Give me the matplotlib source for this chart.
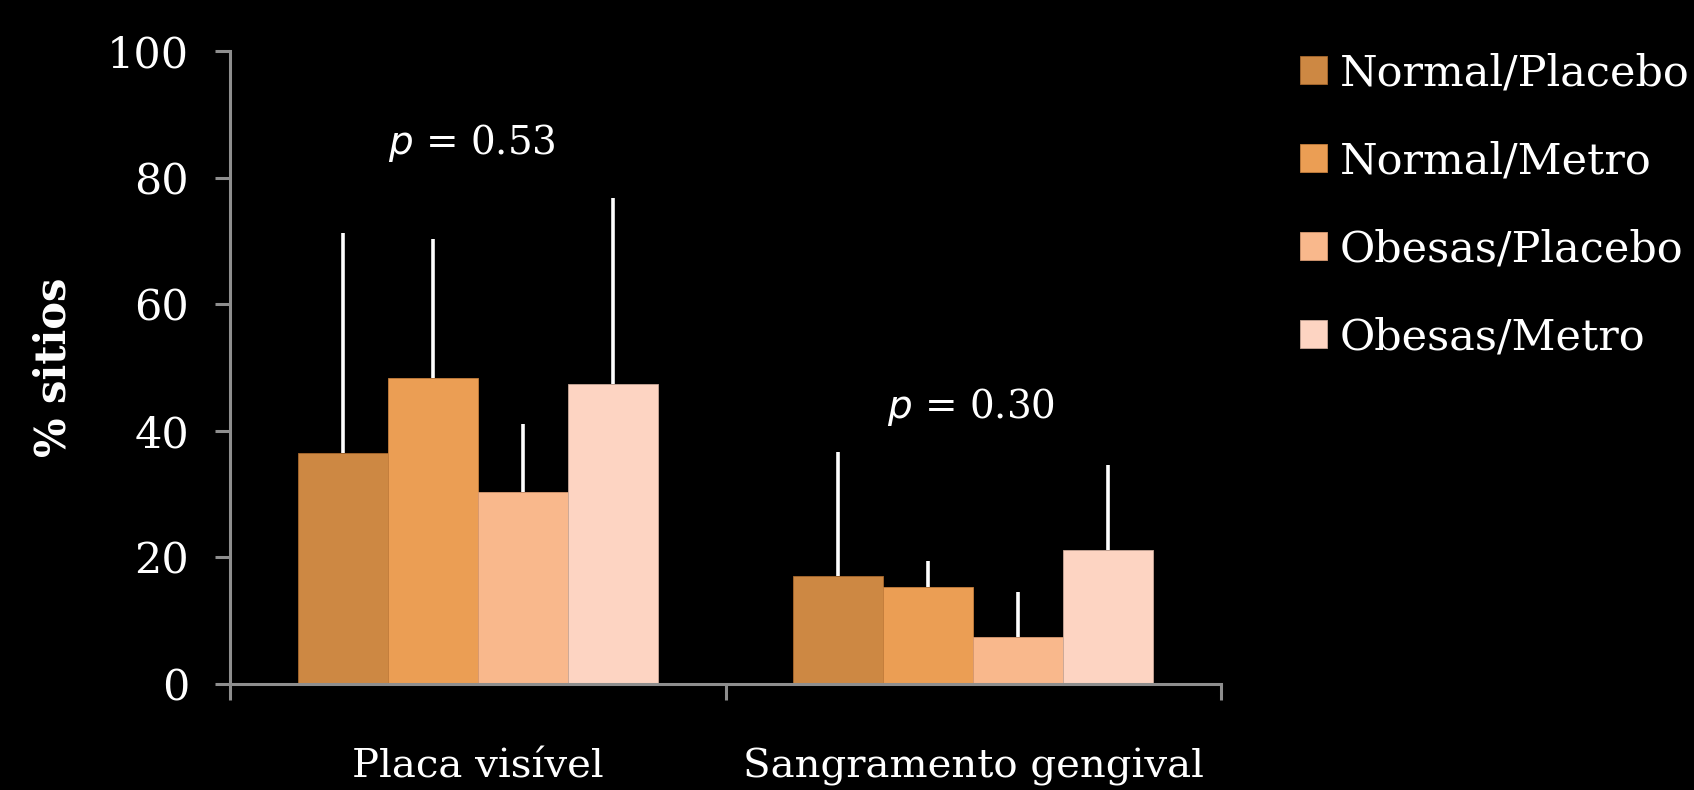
import matplotlib
matplotlib.use("Agg")
import matplotlib.pyplot as plt
import numpy as np

categories = ["Placa visível", "Sangramento gengival"]
series = ["Normal/Placebo", "Normal/Metro", "Obesas/Placebo", "Obesas/Metro"]
means = {
    "Normal/Placebo": [36.5, 17.1],
    "Normal/Metro":   [48.4, 15.3],
    "Obesas/Placebo": [30.4, 7.5],
    "Obesas/Metro":   [47.4, 21.2],
}
upper_err = {
    "Normal/Placebo": [34.8, 19.6],
    "Normal/Metro":   [21.9, 4.1],
    "Obesas/Placebo": [10.7, 7.1],
    "Obesas/Metro":   [29.4, 13.4],
}
colors = ["#CD8843", "#EB9E54", "#F9B88C", "#FDD4C2"]
edgecolors = ["#A8682E", "#C47E3C", "#D89A72", "#C9A898"]
p_labels = ["0.53", "0.30"]
yticks = [0, 20, 40, 60, 80, 100]

plt.rcParams['font.family'] = ['DejaVu Serif']
FS = 31

fig = plt.figure(figsize=(16.94, 7.90), dpi=100, facecolor='black')
ax = fig.add_axes([230/1694, 1-684/790, 991/1694, 633/790])
ax.set_facecolor('black')

x = np.arange(len(categories))
w = 0.1817
for i, s in enumerate(series):
    vals = means[s]
    errs = upper_err[s]
    ax.bar(x + (i - 1.5) * w, vals, width=w, color=colors[i],
           edgecolor=edgecolors[i], linewidth=0.6, label=s, zorder=2)
    ax.errorbar(x + (i - 1.5) * w, vals, yerr=[np.zeros(len(errs)), errs],
                fmt='none', ecolor='white', elinewidth=2.6, capsize=0, zorder=1)

ax.set_xlim(-0.5, 1.5)
ax.set_ylim(0, 100)
ax.set_yticks(yticks)
ax.set_yticklabels([str(t) for t in yticks], fontsize=FS, color='white')
ax.set_xticks([-0.5, 0.5, 1.5])
ax.set_xticklabels([])

axis_col = '#8E8E8E'
for side in ['top', 'right']:
    ax.spines[side].set_visible(False)
for side in ['left', 'bottom']:
    ax.spines[side].set_color(axis_col)
    ax.spines[side].set_linewidth(2.2)
ax.tick_params(axis='y', direction='out', length=10.5, width=2.2, color=axis_col, pad=19)
ax.tick_params(axis='x', direction='out', length=11.5, width=2.2, color=axis_col)

trans = matplotlib.transforms.blended_transform_factory(ax.transData, ax.transAxes)
for xi, c in zip(x, categories):
    ax.text(xi, (684 - 778) / 633, c, transform=trans, ha='center', va='baseline',
            fontsize=29, color='white')

p_pos = [(-0.1806, 83.8), (0.8253, 42.0)]
for (px, py), pl in zip(p_pos, p_labels):
    ax.text(px, py, r"$\mathit{p}$ = " + pl, ha='left', va='baseline',
            fontsize=28, color='white')

fig.text(54 / 1694, 1 - 367 / 790, "% sitios", rotation=90, ha='center', va='center',
         fontsize=30, fontweight='bold', color='white')

leg = fig.legend(loc='upper left', bbox_to_anchor=(1300 / 1694, 1 - 52 / 790),
                 frameon=False, fontsize=FS, labelcolor='white',
                 handlelength=0.63, handleheight=0.63, handletextpad=0.3,
                 labelspacing=1.07, borderpad=0, borderaxespad=0)

fig.savefig("out.png", dpi=100, facecolor='black')
